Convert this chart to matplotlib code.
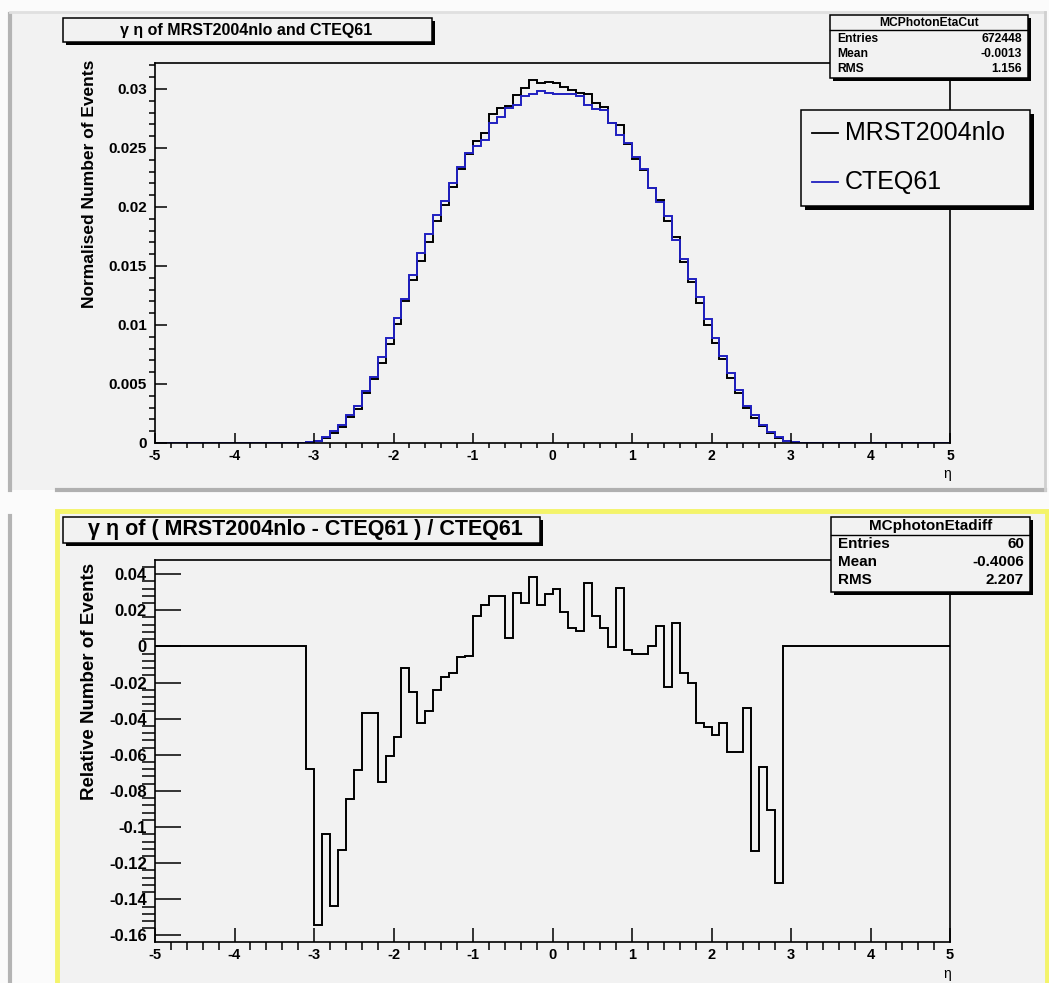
import matplotlib
matplotlib.use("Agg")

import numpy as np
import matplotlib.pyplot as plt
from matplotlib.patches import Rectangle
from matplotlib.lines import Line2D
from matplotlib.ticker import MultipleLocator, FuncFormatter

plt.rcParams["font.family"] = ["Liberation Sans", "DejaVu Sans"]

# --- histogram contents (bin width 0.1 on [-5, 5]) ---
N_BINS = 100
ETA_MIN, ETA_MAX = -5.0, 5.0

# normalised eta distributions, first filled bin starts at eta = -3.3
dist_start = -3.3
cteq61 = [
    0.00002, 0.00004, 0.00008, 0.0002, 0.0005, 0.0010, 0.0015, 0.0024, 0.0031, 0.0044,
    0.0056, 0.0073, 0.0089, 0.0106, 0.0122, 0.0142, 0.0161, 0.0177, 0.0193, 0.0205,
    0.0220, 0.0234, 0.0246, 0.0252, 0.0257, 0.0271, 0.0276, 0.0284, 0.0286, 0.0294,
    0.0296, 0.0298, 0.0297, 0.0296, 0.0296, 0.0296, 0.0294, 0.0286, 0.0283, 0.0282,
    0.0271, 0.0261, 0.0254, 0.0242, 0.0232, 0.0216, 0.0204, 0.0192, 0.0172, 0.0156,
    0.0139, 0.0124, 0.0105, 0.0089, 0.0074, 0.0059, 0.0045, 0.0031, 0.0024, 0.0015,
    0.0009, 0.0005, 0.0002, 0.00006, 0.00002, 0.00001,
]
mrst2004nlo = [
    0.00002, 0.00004, 0.00007, 0.00017, 0.00045, 0.00086, 0.00133, 0.00220, 0.00289, 0.00424,
    0.00540, 0.00675, 0.00836, 0.01007, 0.01206, 0.01384, 0.01542, 0.01707, 0.01883, 0.02016,
    0.02167, 0.02326, 0.02447, 0.02562, 0.02629, 0.02786, 0.02837, 0.02853, 0.02945, 0.03010,
    0.03073, 0.03048, 0.03056, 0.03053, 0.03016, 0.02990, 0.02966, 0.02961, 0.02878, 0.02848,
    0.02709, 0.02694, 0.02535, 0.02410, 0.02310, 0.02161, 0.02063, 0.01877, 0.01743, 0.01537,
    0.01362, 0.01187, 0.01003, 0.00846, 0.00709, 0.00555, 0.00424, 0.00299, 0.00213, 0.00140,
    0.00082, 0.00043, 0.0002, 0.00006, 0.00002, 0.00001,
]

# (MRST - CTEQ) / CTEQ, first filled bin starts at eta = -3.1
diff_start = -3.1
rel_diff = [
    -0.0678, -0.154, -0.104, -0.1436, -0.1125, -0.0845, -0.0683, -0.0366, -0.0366, -0.0751,
    -0.0606, -0.0499, -0.0118, -0.0252, -0.0425, -0.0357, -0.0241, -0.0167, -0.0149, -0.0060,
    -0.0053, 0.0168, 0.0229, 0.0279, 0.0279, 0.0045, 0.0297, 0.0238, 0.0382, 0.0229,
    0.0288, 0.0315, 0.0188, 0.0100, 0.0087, 0.0352, 0.0168, 0.0100, -0.0005, 0.0321,
    -0.0020, -0.0042, -0.0042, 0.0004, 0.0113, -0.0226, 0.0131, -0.0149, -0.0204, -0.0425,
    -0.0444, -0.0490, -0.0425, -0.0587, -0.0587, -0.0339, -0.113, -0.0668, -0.0906, -0.131,
]

top_stats = [("Entries", "672448"), ("Mean", "-0.0013"), ("RMS", "1.156")]
bot_stats = [("Entries", "60"), ("Mean", "-0.4006"), ("RMS", "2.207")]

PAD = "#f2f2f2"
BLUE = "#2020c0"

W, H = 1049, 983
edges = np.linspace(ETA_MIN, ETA_MAX, N_BINS + 1)


def full_hist(vals, start):
    h = np.zeros(N_BINS)
    i0 = int(round((start - ETA_MIN) / 0.1))
    h[i0:i0 + len(vals)] = vals
    return h


def fx(px):
    return px / W


def fy(py):
    return 1 - py / H


fig = plt.figure(figsize=(W / 100, H / 100), dpi=100, facecolor="#fbfbfb")


def frect(x0, y0, x1, y1, **kw):
    r = Rectangle((fx(x0), fy(y1)), fx(x1) - fx(x0), fy(y0) - fy(y1),
                  transform=fig.transFigure, **kw)
    fig.add_artist(r)
    return r


def fline(xs, ys, **kw):
    fig.add_artist(Line2D([fx(x) for x in xs], [fy(y) for y in ys],
                          transform=fig.transFigure, **kw))


def shadow_box(x0, y0, x1, y1, off=3, z=5):
    frect(x0 + off, y0 + off, x1 + off, y1 + off, facecolor="black", edgecolor="none", zorder=z)
    frect(x0, y0, x1, y1, facecolor=PAD, edgecolor="black", lw=1.1, zorder=z + 0.1)


def stats_box(x0, y0, x1, y1, head_y, title, rows, row_ys, fs):
    shadow_box(x0, y0, x1, y1)
    fline([x0, x1], [head_y, head_y], color="black", lw=1.0, zorder=6)
    fig.text(fx((x0 + x1) / 2), fy((y0 + head_y) / 2), title, ha="center", va="center",
             fontsize=fs, fontweight="bold", zorder=7)
    for (k, v), yy in zip(rows, row_ys):
        fig.text(fx(x0 + 7), fy(yy), k, ha="left", va="center", fontsize=fs,
                 fontweight="bold", zorder=7)
        fig.text(fx(x1 - 6), fy(yy), v, ha="right", va="center", fontsize=fs,
                 fontweight="bold", zorder=7)


# pads
frect(10, 12, 1045, 490, facecolor=PAD, edgecolor="none", zorder=-5)
frect(57, 511, 1047, 990, facecolor=PAD, edgecolor="#f4f46a", lw=3.5, zorder=-4)
fline([10, 10], [14, 490], color="#b4b4b4", lw=3, zorder=-3)
fline([10, 10], [516, 983], color="#b4b4b4", lw=3, zorder=-3)
fline([57, 1045], [490, 490], color="#b0b0b0", lw=3, zorder=-3)
fline([10, 1045], [12, 12], color="#e0e0e0", lw=2, zorder=-3)
fline([1045, 1045], [12, 490], color="#d0d0d0", lw=2, zorder=-3)

fmt = FuncFormatter(lambda v, p: "%g" % round(v, 6))


def style_axes(ax, xmaj, xmin, ymaj, ymin, xfs, yfs):
    ax.set_facecolor(PAD)
    ax.set_xlim(ETA_MIN, ETA_MAX)
    ax.xaxis.set_major_locator(MultipleLocator(1))
    ax.xaxis.set_minor_locator(MultipleLocator(0.2))
    ax.xaxis.set_major_formatter(fmt)
    ax.yaxis.set_major_formatter(fmt)
    ax.tick_params(direction="in", top=False, right=False, width=1.1)
    ax.tick_params(axis="x", which="major", length=xmaj, pad=4, labelsize=xfs)
    ax.tick_params(axis="x", which="minor", length=xmin, width=1.1)
    ax.tick_params(axis="y", which="major", length=ymaj, pad=6, labelsize=yfs)
    ax.tick_params(axis="y", which="minor", length=ymin, width=1.1)
    for lab in ax.get_xticklabels() + ax.get_yticklabels():
        lab.set_fontweight("bold")
    for s in ax.spines.values():
        s.set_linewidth(1.2)


# --- top: normalised distributions ---
ax1 = fig.add_axes([fx(155), fy(443), fx(950) - fx(155), fy(63) - fy(443)])
ax1.stairs(full_hist(mrst2004nlo, dist_start), edges, color="black", lw=1.4)
ax1.stairs(full_hist(cteq61, dist_start), edges, color=BLUE, lw=1.4)
ax1.set_ylim(0, 0.0322)
ax1.yaxis.set_major_locator(MultipleLocator(0.005))
ax1.yaxis.set_minor_locator(MultipleLocator(0.001))
style_axes(ax1, 7, 3.6, 8.6, 4.3, 10, 11)

fig.text(fx(90), fy(60), "Normalised Number of Events", rotation=90, ha="center", va="top",
         fontsize=12.5, fontweight="bold")
fig.text(fx(947), fy(474), "η", ha="center", va="center", fontsize=10)

shadow_box(63, 18, 432, 42)
fig.text(fx(246), fy(30), "γ η of MRST2004nlo and CTEQ61", ha="center", va="center",
         fontsize=11.5, fontweight="bold", zorder=7)

stats_box(830, 15, 1028, 78, 30, "MCPhotonEtaCut", top_stats, [39, 54, 69], 8.7)

# legend
shadow_box(801, 110, 1030, 206, off=4)
fline([812, 838], [133, 133], color="black", lw=1.3, zorder=7)
fline([812, 838], [182, 182], color=BLUE, lw=1.3, zorder=7)
fig.text(fx(845), fy(133), "MRST2004nlo", ha="left", va="center", fontsize=18, zorder=7)
fig.text(fx(845), fy(182), "CTEQ61", ha="left", va="center", fontsize=18, zorder=7)

# --- bottom: relative difference ---
ax2 = fig.add_axes([fx(155), fy(942), fx(950) - fx(155), fy(560) - fy(942)])
ax2.stairs(full_hist(rel_diff, diff_start), edges, color="black", lw=1.4, baseline=None)
ax2.set_ylim(-0.1636, 0.0478)
ax2.yaxis.set_major_locator(MultipleLocator(0.02))
ax2.yaxis.set_minor_locator(MultipleLocator(0.004))
style_axes(ax2, 10, 5.8, 18.7, 9.4, 10.5, 12)

fig.text(fx(89), fy(563), "Relative Number of Events", rotation=90, ha="center", va="top",
         fontsize=13.5, fontweight="bold")
fig.text(fx(947), fy(974), "η", ha="center", va="center", fontsize=10)

shadow_box(63, 517, 540, 543)
fig.text(fx(305), fy(530), "γ η of ( MRST2004nlo - CTEQ61 ) / CTEQ61", ha="center",
         va="center", fontsize=15.5, fontweight="bold", zorder=7)

stats_box(831, 517, 1030, 592, 535, "MCphotonEtadiff", bot_stats, [544, 562, 580], 11)

fig.savefig("out.png", dpi=100, facecolor=fig.get_facecolor())
